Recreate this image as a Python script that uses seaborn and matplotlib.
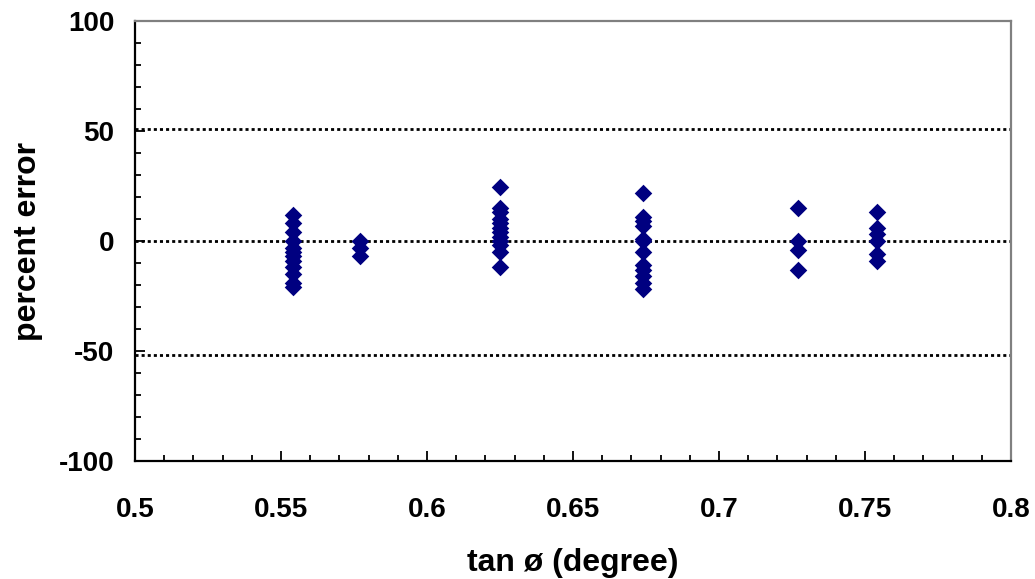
import matplotlib
matplotlib.use("Agg")
import matplotlib.pyplot as plt
import seaborn as sns
import pandas as pd
from matplotlib.ticker import MultipleLocator

# data
x_groups = [0.554, 0.577, 0.625, 0.674, 0.727, 0.754]
y_g1 = [12, 8, 4, 0, -3, -5, -7, -9, -12, -15, -19, -21]
y_g2 = [0, -3, -7]
y_g3 = [24.5, 15, 13, 10, 8, 6, 4, 2, 0, -2, -5, -12]
y_g4 = [22, 11, 9, 7, 1, 0, -5, -11, -13, -16, -19, -22]
y_g5 = [15, 0, -4, -13]
y_g6 = [13, 6, 3, 0, -6, -9]
ref_lines = [51, 0, -52]
x_ticks = [0.5, 0.55, 0.6, 0.65, 0.7, 0.75, 0.8]
x_tick_labels = ["0.5", "0.55", "0.6", "0.65", "0.7", "0.75", "0.8"]
y_ticks = [-100, -50, 0, 50, 100]
y_tick_labels = ["-100", "-50", "0", "50", "100"]

xs, ys = [], []
for xv, yl in zip(x_groups, [y_g1, y_g2, y_g3, y_g4, y_g5, y_g6]):
    xs += [xv] * len(yl)
    ys += yl
df = pd.DataFrame({"tan": xs, "err": ys})

sns.set_style("white")
plt.rcParams["font.family"] = ["Liberation Sans", "DejaVu Sans"]
plt.rcParams["font.weight"] = "bold"
plt.rcParams["axes.unicode_minus"] = False
for k in ["text.color", "axes.labelcolor", "xtick.color", "ytick.color"]:
    plt.rcParams[k] = "black"

fig = plt.figure(figsize=(10.35, 5.79), dpi=100)
ax = fig.add_axes([0.1304, 0.2038, 0.8464, 0.7599])

for yv in ref_lines:
    ax.axhline(yv, color="black", lw=2.0, linestyle=(0, (1.1, 1.1)), zorder=1)

sns.scatterplot(data=df, x="tan", y="err", ax=ax, marker="D", s=80,
                color="#000080", edgecolor="#000080", linewidth=0, zorder=3)

ax.set_xlim(0.5, 0.8)
ax.set_ylim(-100, 100)
ax.set_xticks(x_ticks)
ax.set_xticklabels(x_tick_labels)
ax.set_yticks(y_ticks)
ax.set_yticklabels(y_tick_labels)
ax.xaxis.set_minor_locator(MultipleLocator(0.01))
ax.yaxis.set_minor_locator(MultipleLocator(10))
ax.tick_params(axis="both", which="major", direction="in", length=7, width=1.3,
               color="black", labelsize=20, bottom=True, left=True)
ax.tick_params(axis="both", which="minor", direction="in", length=4.5, width=1.3,
               color="black", bottom=True, left=True)
ax.tick_params(axis="x", which="major", pad=26)
ax.tick_params(axis="y", which="major", pad=15)
for lab in ax.get_xticklabels() + ax.get_yticklabels():
    lab.set_fontweight("bold")

for side in ["left", "bottom"]:
    ax.spines[side].set_color("black")
    ax.spines[side].set_linewidth(1.6)
for side in ["top", "right"]:
    ax.spines[side].set_color("#808080")
    ax.spines[side].set_linewidth(1.6)
    ax.spines[side].set_visible(True)

ax.set_xlabel("tan ø (degree)", fontsize=23, fontweight="bold", labelpad=18)
ax.set_ylabel("percent error", fontsize=23, fontweight="bold", labelpad=11)
ax.grid(False)

fig.savefig("out.png", dpi=100)
